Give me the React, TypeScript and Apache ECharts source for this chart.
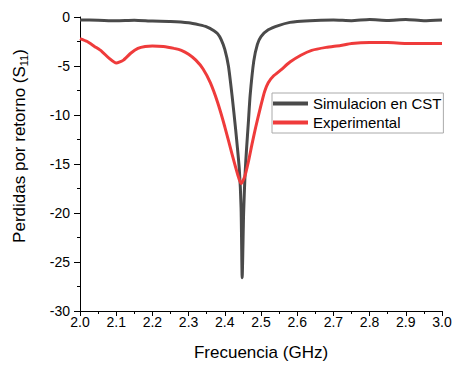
import React, { useEffect, useRef } from "react";
import * as echarts from "echarts";

const simFreq = [2.0, 2.05, 2.1, 2.15, 2.2, 2.25, 2.3, 2.33, 2.35, 2.37, 2.38, 2.39, 2.4, 2.41, 2.42, 2.43, 2.44, 2.445, 2.448, 2.452, 2.456, 2.46, 2.465, 2.47, 2.48, 2.49, 2.5, 2.52, 2.55, 2.58, 2.6, 2.65, 2.7, 2.75, 2.8, 2.85, 2.9, 2.95, 3.0];
const simS11 = [-0.3, -0.33, -0.38, -0.33, -0.42, -0.45, -0.58, -0.8, -1.0, -1.4, -1.7, -2.3, -3.3, -5.0, -8.0, -11.5, -15.5, -19.5, -26.6, -20.0, -16.0, -13.5, -10.8, -8.0, -4.5, -2.8, -2.0, -1.3, -0.85, -0.55, -0.45, -0.35, -0.3, -0.38, -0.25, -0.35, -0.25, -0.38, -0.3];

const expFreq = [2.0, 2.02, 2.04, 2.06, 2.08, 2.1, 2.12, 2.14, 2.16, 2.18, 2.2, 2.23, 2.26, 2.28, 2.3, 2.32, 2.34, 2.36, 2.38, 2.4, 2.42, 2.435, 2.445, 2.455, 2.465, 2.475, 2.485, 2.5, 2.51, 2.52, 2.535, 2.555, 2.58, 2.61, 2.64, 2.68, 2.72, 2.75, 2.8, 2.85, 2.9, 2.95, 3.0];
const expS11 = [-2.2, -2.5, -3.0, -3.5, -4.2, -4.7, -4.4, -3.7, -3.2, -3.0, -2.95, -3.0, -3.2, -3.4, -3.8, -4.4, -5.3, -6.7, -8.7, -11.2, -14.0, -16.0, -17.0, -16.3, -14.8, -13.0, -11.3, -9.0, -7.6, -6.7, -6.0, -5.4, -4.6, -3.9, -3.4, -3.1, -2.9, -2.7, -2.6, -2.6, -2.7, -2.7, -2.7];

const seriesNames = ["Simulacion en CST", "Experimental"];
const xTitle = "Frecuencia (GHz)";
const FONT = "'Liberation Sans', Arial, sans-serif";

export default function App() {
  const ref = useRef<HTMLDivElement>(null);
  useEffect(() => {
    if (!ref.current) return;
    const chart = echarts.init(ref.current, undefined, { renderer: "svg" });
    chart.setOption({
      animation: false,
      backgroundColor: "#fff",
      textStyle: { fontFamily: FONT },
      grid: { left: 80, right: 14, top: 17, bottom: 55 },
      xAxis: {
        type: "value",
        min: 2,
        max: 3,
        interval: 0.1,
        name: xTitle,
        nameLocation: "middle",
        nameGap: 33,
        nameTextStyle: { fontSize: 17, color: "#000", fontFamily: FONT },
        axisLine: { onZero: false, lineStyle: { color: "#000", width: 1 } },
        axisTick: { show: true, length: 5, lineStyle: { color: "#000" } },
        minorTick: { show: true, splitNumber: 2, length: 3, lineStyle: { color: "#000" } },
        splitLine: { show: false },
        axisLabel: {
          margin: 4,
          fontSize: 14,
          color: "#000",
          fontFamily: FONT,
          formatter: (v: number) => v.toFixed(1),
        },
      },
      yAxis: {
        type: "value",
        min: -30,
        max: 0,
        interval: 5,
        axisLine: { show: true, onZero: false, lineStyle: { color: "#000", width: 1 } },
        axisTick: { show: true, length: 6, lineStyle: { color: "#000" } },
        minorTick: { show: true, splitNumber: 2, length: 3, lineStyle: { color: "#000" } },
        splitLine: { show: false },
        axisLabel: { margin: 10, fontSize: 14, color: "#000", fontFamily: FONT },
      },
      legend: {
        left: 272,
        top: 93,
        orient: "vertical",
        icon: "rect",
        itemWidth: 35,
        itemHeight: 4,
        itemGap: 4,
        padding: [3, 2, 3, 1],
        borderColor: "#aaa",
        borderWidth: 1,
        backgroundColor: "#fff",
        textStyle: { fontSize: 15, color: "#000", fontFamily: FONT, lineHeight: 15 },
        data: seriesNames,
      },
      graphic: [
        {
          type: "text",
          x: 19,
          y: 146,
          rotation: Math.PI / 2,
          style: {
            text: "{a|Perdidas por retorno (S}{b|11}{a|)}",
            align: "center",
            verticalAlign: "middle",
            fill: "#000",
            font: "17px " + FONT,
            rich: {
              a: { fontSize: 17, fontFamily: FONT, fill: "#000", lineHeight: 22 },
              b: { fontSize: 11, fontFamily: FONT, fill: "#000", lineHeight: 22, padding: [9, 0, 0, 0] },
            },
          },
        },
      ],
      series: [
        {
          name: seriesNames[0],
          type: "line",
          symbol: "none",
          smooth: 0.2,
          data: simFreq.map((f, i) => [f, simS11[i]]),
          lineStyle: { color: "#4a4a4a", width: 3 },
          itemStyle: { color: "#4a4a4a" },
          z: 2,
        },
        {
          name: seriesNames[1],
          type: "line",
          symbol: "none",
          smooth: 0.2,
          data: expFreq.map((f, i) => [f, expS11[i]]),
          lineStyle: { color: "#ef3b3b", width: 3 },
          itemStyle: { color: "#ef3b3b" },
          z: 3,
        },
      ],
    });
    return () => chart.dispose();
  }, []);
  return (
    <div
      ref={ref}
      style={{ position: "fixed", left: 0, top: 0, width: 456, height: 366 }}
    />
  );
}
